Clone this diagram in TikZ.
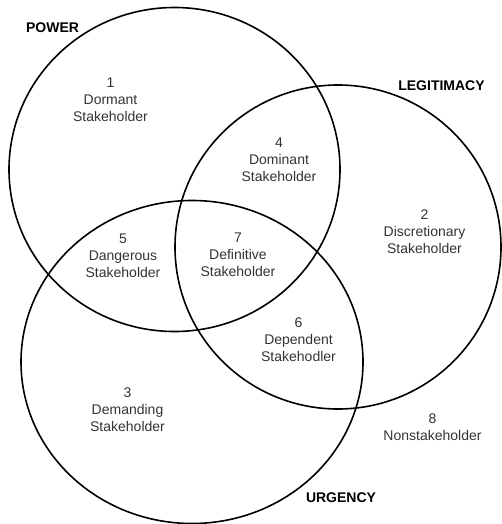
\documentclass[tikz,border=0pt]{standalone}
\usepackage{fontspec}
\setmainfont{Liberation Sans}
\begin{document}
\begin{tikzpicture}[x=1pt,y=-1pt,
  setline/.style={line width=1.6pt, draw=black},
  region/.style={align=center, inner sep=0pt, text=black!80,
    font=\fontsize{14}{16.7}\selectfont},
  setlabel/.style={inner sep=0pt, text=black,
    font=\fontsize{14}{16.7}\selectfont\bfseries}]
\useasboundingbox (0,0) rectangle (501,524);
% sets
\draw[setline] (174.5,169.5) ellipse [x radius=165.5pt, y radius=162pt];
\draw[setline] (338,247) ellipse [x radius=163pt, y radius=162pt];
\draw[setline] (192,362) ellipse [x radius=171pt, y radius=161.5pt];
% set labels
\node[setlabel] (power) at (52.5,28) {POWER};
\node[setlabel] (legit) at (441.5,86) {LEGITIMACY};
\node[setlabel] (urgency) at (341,498) {URGENCY};
% regions
\node[region] (r1) at (110.5,101) {\strut 1\\\strut Dormant\\\strut Stakeholder};
\node[region] (r4) at (279,161) {\strut 4\\\strut Dominant\\\strut Stakeholder};
\node[region] (r2) at (424.5,233) {\strut 2\\\strut Discretionary\\\strut Stakeholder};
\node[region] (r5) at (123,257) {\strut 5\\\strut Dangerous\\\strut Stakeholder};
\node[region] (r7) at (238,256) {\strut 7\\\strut Definitive\\\strut Stakeholder};
\node[region] (r6) at (298.5,341) {\strut 6\\\strut Dependent\\\strut Stakehodler};
\node[region] (r3) at (127.5,411) {\strut 3\\\strut Demanding\\\strut Stakeholder};
\node[region] (r8) at (432.5,429) {\strut 8\\\strut Nonstakeholder};
\end{tikzpicture}
\end{document}
